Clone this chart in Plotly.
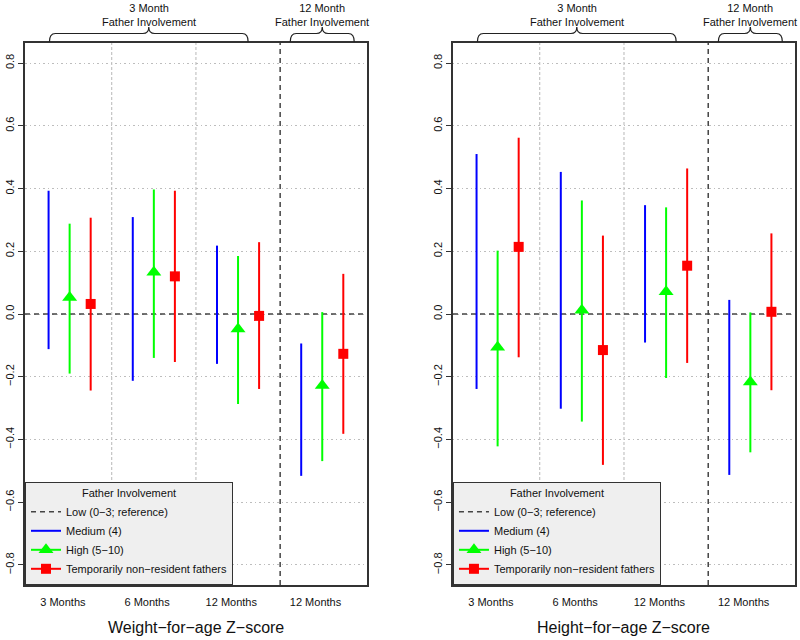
import plotly.graph_objects as go

# ---------------- data ----------------
groups = ["3 Months", "6 Months", "12 Months", "12 Months"]
group_pos = [1, 2, 3, 4]
series_names = ["Medium (4)", "High (5−10)", "Temporarily non−resident fathers"]
ref_name = "Low (0−3; reference)"
ref_value = 0.0
panel_titles = ["Weight−for−age Z−score", "Height−for−age Z−score"]
y_ticks = [-0.8, -0.6, -0.4, -0.2, 0.0, 0.2, 0.4, 0.6, 0.8]

# Weight-for-age (left panel)
wfa_med_lo = [-0.112, -0.213, -0.159, -0.516]
wfa_med_hi = [0.393, 0.309, 0.218, -0.094]
wfa_high_est = [0.053, 0.133, -0.048, -0.228]
wfa_high_lo = [-0.190, -0.140, -0.287, -0.469]
wfa_high_hi = [0.288, 0.397, 0.185, 0.006]
wfa_tnr_est = [0.032, 0.120, -0.006, -0.127]
wfa_tnr_lo = [-0.244, -0.153, -0.239, -0.382]
wfa_tnr_hi = [0.307, 0.393, 0.229, 0.128]

# Height-for-age (right panel)
hfa_med_lo = [-0.239, -0.302, -0.091, -0.513]
hfa_med_hi = [0.510, 0.453, 0.347, 0.045]
hfa_high_est = [-0.106, 0.012, 0.071, -0.217]
hfa_high_lo = [-0.422, -0.343, -0.204, -0.441]
hfa_high_hi = [0.202, 0.362, 0.340, 0.005]
hfa_tnr_est = [0.214, -0.115, 0.154, 0.007]
hfa_tnr_lo = [-0.138, -0.481, -0.156, -0.243]
hfa_tnr_hi = [0.562, 0.250, 0.464, 0.257]

# ---------------- style ----------------
FONT = "Liberation Sans, Arial, Helvetica, sans-serif"
colors = ["#0000FF", "#00FF00", "#FF0000"]
offsets = [-0.25, 0.0, 0.25]
x_range = [0.47, 4.53]
y_range = [-0.864, 0.864]
domains = [[0.0, 0.444], [0.5558, 1.0]]

panels = [
    dict(med=(wfa_med_lo, wfa_med_hi),
         high=(wfa_high_est, wfa_high_lo, wfa_high_hi),
         tnr=(wfa_tnr_est, wfa_tnr_lo, wfa_tnr_hi)),
    dict(med=(hfa_med_lo, hfa_med_hi),
         high=(hfa_high_est, hfa_high_lo, hfa_high_hi),
         tnr=(hfa_tnr_est, hfa_tnr_lo, hfa_tnr_hi)),
]


def segments(off, lo, hi):
    xs, ys = [], []
    for g, a, b in zip(group_pos, lo, hi):
        xs += [g + off, g + off, None]
        ys += [a, b, None]
    return xs, ys


def points(off, est):
    xs, ys = [], []
    for g, e in zip(group_pos, est):
        xs += [g + off, None]
        ys += [e, None]
    return xs, ys


fig = go.Figure()
for p, pdata in enumerate(panels):
    xa = "x" if p == 0 else "x2"
    ya = "y" if p == 0 else "y2"
    lg = "legend" if p == 0 else "legend2"
    # reference line
    fig.add_trace(go.Scatter(
        x=x_range, y=[ref_value, ref_value], mode="lines", name=ref_name,
        line=dict(color="#444444", width=1.5, dash="5px,4px"),
        xaxis=xa, yaxis=ya, legend=lg, hoverinfo="skip"))
    # medium: CI lines only
    xs, ys = segments(offsets[0], *pdata["med"])
    fig.add_trace(go.Scatter(
        x=xs, y=ys, mode="lines", name=series_names[0],
        line=dict(color=colors[0], width=2),
        xaxis=xa, yaxis=ya, legend=lg))
    # high and tnr: CI lines + marker
    for k, key, sym, size in [(1, "high", "triangle-up", 13), (2, "tnr", "square", 10)]:
        est, lo, hi = pdata[key]
        xs, ys = segments(offsets[k], lo, hi)
        fig.add_trace(go.Scatter(
            x=xs, y=ys, mode="lines", showlegend=False,
            line=dict(color=colors[k], width=2),
            xaxis=xa, yaxis=ya, legend=lg, legendgroup=f"{p}{key}"))
        xs, ys = points(offsets[k], est)
        fig.add_trace(go.Scatter(
            x=xs, y=ys, mode="lines+markers", name=series_names[k],
            line=dict(color=colors[k], width=2),
            marker=dict(symbol=sym, size=size, color=colors[k]),
            xaxis=xa, yaxis=ya, legend=lg, legendgroup=f"{p}{key}"))

axis_common_x = dict(
    range=x_range, tickvals=[g - 0.08 for g in group_pos], ticktext=groups,
    ticks="", showgrid=False, zeroline=False, showline=True, mirror=True,
    linecolor="#333333", linewidth=1.5, tickfont=dict(size=11, color="#111"),
    ticklabelstandoff=6, fixedrange=True, automargin=False)
axis_common_y = dict(
    range=y_range, tickvals=y_ticks, tickformat=".1f", tickangle=-90,
    ticks="outside", ticklen=5, tickcolor="#333333", tickwidth=1,
    showgrid=True, gridcolor="#bdbdbd", griddash="1.5px,3px", gridwidth=1,
    zeroline=False, showline=True, mirror=True, linecolor="#333333",
    linewidth=1.5, tickfont=dict(size=11, color="#111"), fixedrange=True,
    automargin=False)

legend_common = dict(
    xanchor="left", yanchor="bottom", y=0, bgcolor="#EFEFEF",
    bordercolor="#333333", borderwidth=1, font=dict(size=11, color="#111"),
    title=dict(text="Father Involvement", side="top center", font=dict(size=11)),
    tracegroupgap=0, itemwidth=30, traceorder="normal")

shapes = []
annotations = []
brace_top_text = [("3 Month<br>Father Involvement", 0.76, 3.12, 1.94),
                  ("12 Month<br>Father Involvement", 3.62, 4.38, 4.0)]
for p in range(2):
    xr = "x" if p == 0 else "x2"
    # group separator lines
    for xv in [1.5, 2.5]:
        shapes.append(dict(type="line", xref=xr, yref="paper", x0=xv, x1=xv, y0=0, y1=1,
                           line=dict(color="#b8b8b8", width=1, dash="3px,2px"), layer="below"))
    shapes.append(dict(type="line", xref=xr, yref="paper", x0=3.5, x1=3.5, y0=0, y1=1,
                       line=dict(color="#444444", width=1.5, dash="5px,4px"), layer="below"))
    # curly braces
    yb, yl, yt = 1.002, 1.0175, 1.0295
    d = 0.07
    for text, x0, x1, xm in brace_top_text:
        path = (f"M {x0},{yb} Q {x0},{yl} {x0+d},{yl} L {xm-d},{yl} "
                f"Q {xm},{yl} {xm},{yt} Q {xm},{yl} {xm+d},{yl} "
                f"L {x1-d},{yl} Q {x1},{yl} {x1},{yb}")
        shapes.append(dict(type="path", xref=xr, yref="paper", path=path,
                           line=dict(color="#222222", width=1.2)))
        annotations.append(dict(text=text, x=xm, xref=xr, y=1.0517, yref="paper",
                                xanchor="center", yanchor="middle", showarrow=False,
                                font=dict(size=11, color="#111")))
    annotations.append(dict(text=panel_titles[p], x=0.5, xref=f"{xr} domain",
                            y=-0.0793, yref="paper", xanchor="center", yanchor="middle",
                            showarrow=False, font=dict(size=16, color="#111")))

fig.update_layout(
    width=800, height=640,
    margin=dict(l=25, r=5, t=43, b=55),
    paper_bgcolor="white", plot_bgcolor="white",
    font=dict(family=FONT, color="#111"),
    xaxis=dict(domain=domains[0], anchor="y", **axis_common_x),
    yaxis=dict(anchor="x", **axis_common_y),
    xaxis2=dict(domain=domains[1], anchor="y2", **axis_common_x),
    yaxis2=dict(anchor="x2", **axis_common_y),
    legend=dict(x=domains[0][0], **legend_common),
    legend2=dict(x=domains[1][0], **legend_common),
    shapes=shapes, annotations=annotations,
    hovermode=False,
)

# remove the browser's default 8px page margin so the figure sits at the corner
fig.write_html("out.html", config={"displayModeBar": False},
               post_script="document.body.style.margin='0px';")
